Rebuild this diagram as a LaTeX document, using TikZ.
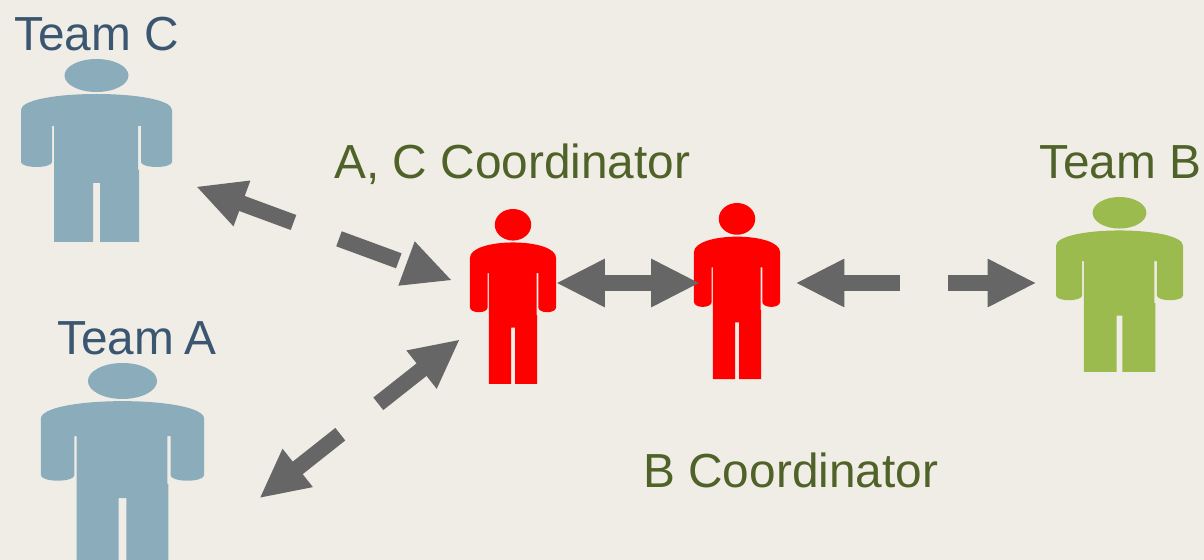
\documentclass[tikz,border=0pt]{standalone}
\usepackage{fontspec}
\setmainfont{Liberation Sans}
\usetikzlibrary{arrows.meta}
\definecolor{paperbg}{RGB}{240, 237, 230}
\definecolor{teamblue}{RGB}{138, 172, 187}
\definecolor{teamgreen}{RGB}{155, 187, 79}
\definecolor{arrowgray}{RGB}{102, 102, 102}
\definecolor{bluetext}{RGB}{59, 86, 112}
\definecolor{greentext}{RGB}{79, 98, 40}
\tikzset{
	label/.style={anchor=base west,inner sep=0pt,font=\fontsize{27.2}{31}\selectfont},
	bar/.style={draw=arrowgray,line width=0.32cm},
	block/.style={bar,-{Triangle[length=0.98cm,width=0.9cm]}},
	blockboth/.style={bar,{Triangle[length=0.98cm,width=0.9cm]}-{Triangle[length=0.98cm,width=0.9cm]}},
	person/.pic={
		\fill[pic actions] (0,16.5) ellipse (32 and 16.5);
		\fill[pic actions] (-75.5,51) .. controls (-75.5,41) and (-40,35) .. (0,35)
			.. controls (40,35) and (75.5,41) .. (75.5,51) -- (75.5,103)
			.. controls (75.5,106) and (68,108) .. (60,108) .. controls (52,108) and (44.5,106) .. (44.5,103)
			-- (44.5,67) -- (41.5,67) -- (41.5,111) -- (42.5,111) -- (42.5,183) -- (3.5,183) -- (3.5,124)
			-- (-3.5,124) -- (-3.5,183) -- (-42.5,183) -- (-42.5,67) -- (-44.5,67) -- (-44.5,103)
			.. controls (-44.5,106) and (-52,108) .. (-60,108) .. controls (-68,108) and (-75.5,106) .. (-75.5,103) -- cycle;
	}
}

\begin{document}
\begin{tikzpicture}[x=0.02cm,y=-0.02cm]
	\useasboundingbox (0,0) rectangle (1204,560);
	\fill[paperbg] (0,0) rectangle (1204,560);
	\clip (0,0) rectangle (1204,560);
	
	\pic[fill=teamblue] (teamC) at (96.5,59) {person};
	\pic[fill=teamblue,xscale=1.08,yscale=1.09] (teamA) at (122.5,363) {person};
	\pic[fill=red,xscale=.57,yscale=.956] (coordAC) at (513,209) {person};
	\pic[fill=red,xscale=.57,yscale=.962] (coordB) at (737,203) {person};
	\pic[fill=teamgreen,xscale=.841,yscale=.956] (teamB) at (1119.5,197) {person};
	
	\node[label,text=bluetext] (labelC) at (14,50.5) {Team C};
	\node[label,text=bluetext] (labelA) at (57,354.5) {Team\kern-1.7pt{} A};
	\node[label,text=greentext] (labelAC) at (334,179) {A, C Coordinator};
	\node[label,text=greentext] (labelB) at (1039,179) {Team B};
	\node[label,text=greentext] (labelBC) at (643,488) {B Coordinator};
	
	\coordinate (C tip) at (196,186.5);
	\coordinate (C tail) at (293.5,222.5);
	\coordinate (AC tail) at (339,238.8);
	\coordinate (AC neck) at (398.8,260.8);
	\coordinate (AC top) at (414.7,241.3);
	\coordinate (AC bottom) at (398.3,285.7);
	\coordinate (AC tip) at (451,280);
	\coordinate (A tail) at (378.3,403.8);
	\coordinate (AC low) at (460,339.3);
	\coordinate (A low) at (340.3,434.2);
	\coordinate (A tip) at (259.3,498.3);
	\coordinate (mid left) at (556,283);
	\coordinate (mid right) at (700,283);
	\coordinate (B near) at (900,283);
	\coordinate (B left) at (795.5,283);
	\coordinate (B far) at (948,283);
	\coordinate (B tip) at (1036.5,283);
	
	\draw[block] (C tail) -- (C tip);
	\draw[bar] (AC tail) -- (AC neck);
	\fill[arrowgray] (AC top) -- (AC tip) -- (AC bottom) -- cycle;
	\draw[block] (A tail) -- (AC low);
	\draw[block] (A low) -- (A tip);
	\draw[blockboth] (mid left) -- (mid right);
	\draw[block] (B near) -- (B left);
	\draw[block] (B far) -- (B tip);
\end{tikzpicture}
\end{document}
